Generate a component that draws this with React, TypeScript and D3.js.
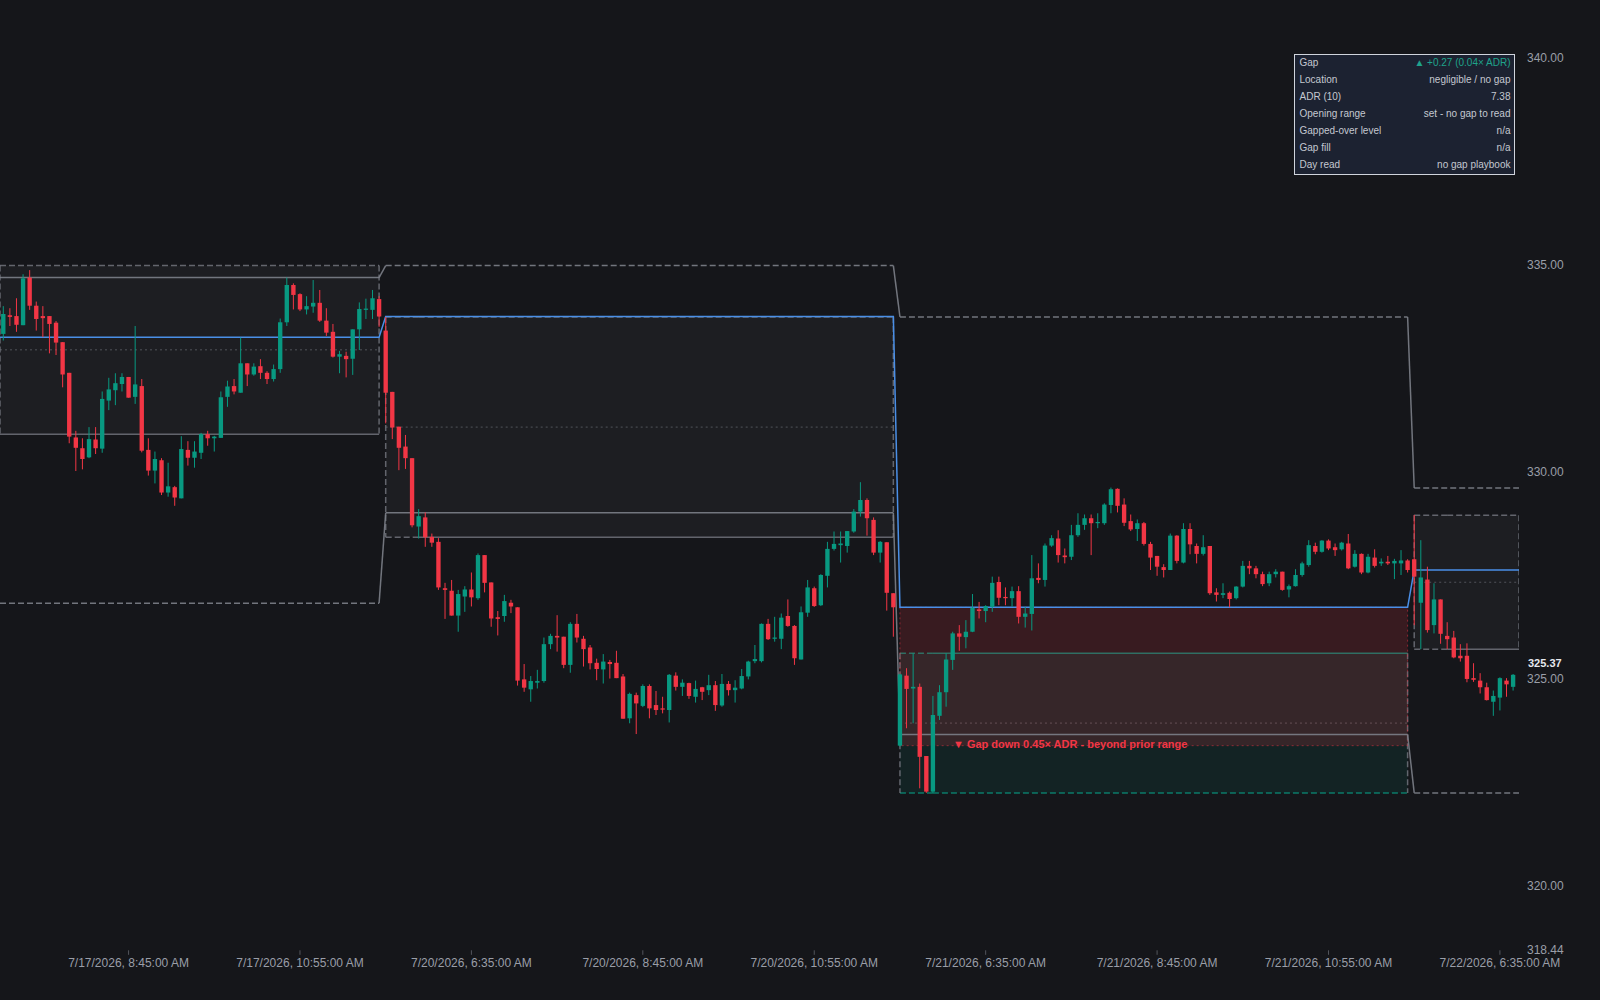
import React, { useEffect } from 'react';
import * as d3 from 'd3';

// ---------------- data ----------------
const sessionYmd: number[][] = [[2026, 7, 17], [2026, 7, 20], [2026, 7, 21], [2026, 7, 22]];
const sessionFirstBar = [20, 0, 0, 0]; // first visible 5-min bar of each session (session opens 5:30)
const orBars = 6; // opening range = first 30 minutes

// [open, high, low, close]
const bars0717: number[][] = [
  [333.32, 333.99, 333.16, 333.80], [333.77, 333.94, 333.51, 333.73], [333.75, 334.18, 333.37, 333.54],
  [333.53, 334.76, 333.53, 334.66], [334.68, 334.86, 333.90, 334.00], [334.00, 334.10, 333.40, 333.68],
  [333.75, 333.99, 333.24, 333.70], [333.75, 333.75, 332.85, 333.56], [333.59, 333.63, 332.81, 333.11],
  [333.12, 333.12, 332.03, 332.34], [332.38, 332.38, 330.68, 330.84], [330.82, 330.98, 330.01, 330.57],
  [330.56, 330.80, 330.05, 330.30], [330.34, 331.07, 330.32, 330.78], [330.77, 331.07, 330.42, 330.56],
  [330.55, 331.93, 330.45, 331.75], [331.71, 332.26, 331.48, 331.98], [331.96, 332.37, 331.60, 332.13],
  [332.11, 332.37, 331.93, 332.28], [332.28, 332.28, 331.78, 331.78], [331.80, 333.51, 331.63, 332.10],
  [332.06, 332.23, 330.46, 330.50], [330.52, 330.80, 329.90, 330.02], [330.02, 330.48, 329.71, 330.30],
  [330.27, 330.32, 329.43, 329.49], [329.49, 330.21, 329.39, 329.64], [329.62, 329.65, 329.17, 329.37],
  [329.35, 330.85, 329.35, 330.54], [330.52, 330.73, 330.14, 330.33], [330.33, 330.73, 330.09, 330.48],
  [330.45, 330.93, 330.30, 330.90], [330.90, 330.98, 330.62, 330.80], [330.80, 330.86, 330.48, 330.84],
  [330.81, 331.93, 330.81, 331.79], [331.80, 332.19, 331.56, 332.05], [332.06, 332.23, 331.86, 331.93],
  [331.90, 333.23, 331.90, 332.61], [332.61, 332.61, 332.06, 332.34], [332.34, 332.61, 332.31, 332.53],
  [332.54, 332.71, 332.23, 332.38], [332.38, 332.42, 332.11, 332.23], [332.23, 332.58, 332.17, 332.47],
  [332.47, 333.69, 332.38, 333.60], [333.60, 334.68, 333.51, 334.50], [334.50, 334.54, 333.91, 334.26],
  [334.28, 334.30, 333.87, 333.91], [333.91, 334.23, 333.79, 333.99], [333.98, 334.62, 333.83, 334.07],
  [334.07, 334.38, 333.61, 333.64], [333.64, 333.94, 333.27, 333.35], [333.37, 333.56, 332.75, 332.77],
  [332.77, 332.91, 332.37, 332.83], [332.79, 332.89, 332.27, 332.71], [332.72, 333.43, 332.33, 333.43],
  [333.43, 334.08, 332.93, 333.92], [333.90, 334.17, 333.68, 333.93], [333.90, 334.38, 333.68, 334.18],
  [334.16, 334.23, 333.49, 333.74],
];

const bars0720: number[][] = [
  [333.40, 333.73, 331.16, 331.90], [331.92, 331.92, 330.78, 331.06], [331.08, 331.08, 330.03, 330.57],
  [330.60, 330.88, 330.06, 330.32], [330.32, 330.32, 328.65, 328.70], [328.67, 329.09, 328.38, 328.92],
  [328.89, 329.01, 328.18, 328.41], [328.42, 328.50, 328.18, 328.28], [328.30, 328.39, 327.14, 327.20],
  [327.18, 327.31, 326.44, 327.14], [327.12, 327.38, 326.52, 326.52], [326.52, 327.14, 326.13, 327.04],
  [326.98, 327.23, 326.61, 327.15], [327.15, 327.56, 326.74, 326.96], [326.94, 328.02, 326.90, 327.98],
  [327.98, 327.98, 327.08, 327.31], [327.32, 327.32, 326.25, 326.45], [326.48, 326.63, 326.04, 326.44],
  [326.51, 327.02, 326.37, 326.87], [326.83, 326.90, 326.58, 326.74], [326.72, 326.72, 324.83, 324.95],
  [324.98, 325.35, 324.68, 324.78], [324.74, 325.06, 324.44, 324.94], [324.90, 325.21, 324.76, 324.94],
  [324.94, 325.99, 324.90, 325.83], [325.83, 326.08, 325.71, 326.03], [326.03, 326.53, 325.65, 325.99],
  [326.01, 326.01, 325.25, 325.33], [325.33, 326.36, 325.14, 326.32], [326.32, 326.56, 325.87, 325.99],
  [325.96, 326.03, 325.29, 325.71], [325.75, 325.81, 325.22, 325.37], [325.38, 325.48, 324.96, 325.23],
  [325.22, 325.59, 324.88, 325.41], [325.40, 325.45, 325.00, 325.35], [325.38, 325.67, 325.01, 325.01],
  [325.05, 325.11, 324.03, 324.03], [324.04, 324.66, 323.92, 324.63], [324.60, 324.66, 323.66, 324.40],
  [324.34, 324.86, 324.31, 324.82], [324.82, 324.86, 324.04, 324.28], [324.36, 324.70, 324.12, 324.24],
  [324.28, 324.56, 324.16, 324.25], [324.24, 325.11, 323.94, 325.09], [325.07, 325.15, 324.71, 324.80],
  [324.80, 324.98, 324.58, 324.90], [324.89, 324.90, 324.51, 324.58], [324.56, 324.95, 324.42, 324.75],
  [324.79, 324.80, 324.48, 324.68], [324.72, 325.09, 324.60, 324.84], [324.84, 324.94, 324.22, 324.36],
  [324.35, 325.11, 324.32, 324.87], [324.87, 324.94, 324.59, 324.72], [324.72, 324.96, 324.42, 324.78],
  [324.76, 325.23, 324.74, 325.06], [325.05, 325.43, 324.98, 325.41], [325.42, 325.81, 325.37, 325.47],
  [325.42, 326.33, 325.39, 326.32], [326.32, 326.44, 325.93, 325.95], [325.96, 326.49, 325.89, 325.99],
  [325.96, 326.57, 325.71, 326.47], [326.51, 326.91, 326.25, 326.27], [326.27, 326.29, 325.33, 325.49],
  [325.46, 326.74, 325.46, 326.60], [326.59, 327.38, 326.49, 327.20], [327.18, 327.22, 326.73, 326.75],
  [326.77, 327.52, 326.75, 327.50], [327.48, 328.30, 327.20, 328.13], [328.13, 328.55, 328.09, 328.25],
  [328.22, 328.55, 327.80, 328.26], [328.20, 328.56, 328.04, 328.56], [328.55, 329.09, 328.52, 329.03],
  [329.03, 329.74, 328.91, 329.31], [329.31, 329.35, 328.45, 328.87], [328.83, 328.89, 327.98, 328.04],
  [328.04, 328.32, 327.80, 328.30], [328.29, 328.29, 326.64, 327.07], [327.06, 327.06, 326.01, 326.72],
];

const bars0721: number[][] = [
  [323.38, 325.12, 323.36, 325.10], [325.07, 325.25, 323.80, 324.75], [324.76, 325.61, 323.92, 324.80],
  [324.80, 324.88, 322.35, 323.11], [323.13, 323.13, 322.24, 322.27], [322.27, 324.58, 322.24, 324.12],
  [324.10, 324.84, 324.00, 324.67], [324.67, 325.61, 324.32, 325.46], [325.45, 326.13, 325.21, 326.09],
  [326.09, 326.29, 325.67, 326.01], [326.00, 326.41, 325.73, 326.13], [326.13, 327.04, 326.12, 326.71],
  [326.67, 326.85, 326.45, 326.63], [326.63, 326.77, 326.36, 326.75], [326.73, 327.46, 326.61, 327.31],
  [327.33, 327.46, 326.77, 326.95], [326.97, 327.20, 326.77, 326.94], [326.94, 327.22, 326.73, 327.11],
  [327.11, 327.23, 326.33, 326.49], [326.49, 326.73, 326.23, 326.57], [326.56, 327.98, 326.16, 327.42],
  [327.43, 327.78, 327.30, 327.38], [327.38, 328.26, 327.22, 328.21], [328.21, 328.46, 328.18, 328.39],
  [328.38, 328.58, 327.80, 327.98], [327.97, 328.14, 327.78, 327.93], [327.94, 328.71, 327.86, 328.46],
  [328.46, 328.99, 328.42, 328.71], [328.71, 328.96, 328.59, 328.87], [328.87, 328.96, 327.98, 328.75],
  [328.75, 328.99, 328.63, 328.78], [328.75, 329.23, 328.71, 329.20], [329.19, 329.61, 328.99, 329.57],
  [329.58, 329.59, 329.01, 329.17], [329.20, 329.35, 328.68, 328.76], [328.80, 328.96, 328.56, 328.60],
  [328.61, 328.84, 328.32, 328.75], [328.75, 328.78, 328.21, 328.25], [328.25, 328.30, 327.62, 327.92],
  [327.96, 327.96, 327.48, 327.70], [327.69, 327.76, 327.44, 327.62], [327.62, 328.50, 327.62, 328.45],
  [328.45, 328.46, 327.78, 327.84], [327.80, 328.75, 327.78, 328.61], [328.61, 328.75, 328.00, 328.24],
  [328.20, 328.26, 327.78, 328.01], [328.01, 328.46, 327.97, 328.17], [328.20, 328.20, 327.02, 327.06],
  [327.08, 327.18, 326.86, 327.02], [327.02, 327.30, 326.94, 327.06], [327.07, 327.10, 326.72, 326.92],
  [326.94, 327.23, 326.91, 327.22], [327.22, 327.84, 327.20, 327.72], [327.72, 327.84, 327.52, 327.66],
  [327.66, 327.72, 327.42, 327.52], [327.52, 327.58, 327.23, 327.28], [327.30, 327.58, 327.23, 327.52],
  [327.52, 327.64, 327.44, 327.58], [327.58, 327.58, 327.12, 327.14], [327.15, 327.27, 326.96, 327.23],
  [327.23, 327.64, 327.22, 327.50], [327.50, 327.82, 327.46, 327.78], [327.74, 328.34, 327.70, 328.22],
  [328.20, 328.28, 328.00, 328.06], [328.06, 328.34, 328.04, 328.33], [328.33, 328.36, 328.10, 328.14],
  [328.17, 328.26, 327.96, 328.10], [328.12, 328.30, 328.09, 328.28], [328.26, 328.49, 327.64, 327.66],
  [327.70, 328.10, 327.68, 328.01], [328.01, 328.02, 327.52, 327.56], [327.56, 328.01, 327.54, 327.94],
  [327.92, 328.12, 327.68, 327.72], [327.78, 327.90, 327.72, 327.82], [327.82, 327.96, 327.74, 327.78],
  [327.78, 327.89, 327.40, 327.84], [327.78, 328.10, 327.50, 327.85], [327.85, 327.88, 327.56, 327.62],
];

const bars0722: number[][] = [
  [327.88, 328.95, 326.29, 327.46], [326.83, 328.34, 325.71, 327.44], [327.39, 327.70, 326.11, 326.17],
  [326.29, 327.30, 326.09, 326.91], [326.91, 326.91, 325.84, 326.08], [326.03, 326.36, 325.71, 325.95],
  [325.99, 326.15, 325.49, 325.51], [325.55, 325.83, 325.41, 325.49], [325.55, 325.85, 324.91, 324.99],
  [325.01, 325.37, 324.92, 324.97], [324.95, 325.13, 324.64, 324.79], [324.79, 324.90, 324.47, 324.48],
  [324.44, 324.71, 324.10, 324.58], [324.54, 325.03, 324.23, 325.01], [324.95, 325.01, 324.56, 324.86],
  [324.80, 325.11, 324.71, 325.09],
];

// per-session levels
const orHigh = [334.97, 333.73, 325.61, 328.94];
const orLow = [330.90, 328.41, 322.24, 325.71];
const priorHigh = [334.68, 334.97, 333.73, 329.60];
const priorLow = [326.82, 329.00, 323.65, 322.24];
const priorClose = [333.24, 333.74, 326.72, 327.62];
const orTone = ['flat', 'flat', 'up', 'flat'];

const gapSessionIndex = 2;
const gapLabel = '\u25BC Gap down 0.45\u00D7 ADR - beyond prior range';

const yTicks = [320, 325, 330, 335, 340];
const yDomain = [318.44, 341.38];
const lastPrice = 325.37;

const tableLabels = ['Gap', 'Location', 'ADR (10)', 'Opening range', 'Gapped-over level', 'Gap fill', 'Day read'];
const tableValues = ['\u25B2 +0.27 (0.04\u00D7 ADR)', 'negligible / no gap', '7.38', 'set - no gap to read', 'n/a', 'n/a', 'no gap playbook'];

// ---------------- styling ----------------
const BG = '#15161a';
const UP = '#089981';
const DOWN = '#f23645';
const BLUE = '#4a8fe7';
const GREY = '#7c7f88';
const TEXT = '#9a9ea8';
const FONT = '"Liberation Sans", Arial, sans-serif';
const DASH = '6 3';

const W = 1600;
const H = 1000;
const PLOT_R = 1519;
const PLOT_B = 950.3;

type Bar = { o: number; h: number; l: number; c: number; s: number; k: number; g: number };

function fmtTime(ymd: number[], k: number) {
  const mins = 5 * 60 + 30 + 5 * k;
  let hh = Math.floor(mins / 60);
  const mm = mins % 60;
  const ampm = hh >= 12 ? 'PM' : 'AM';
  hh = hh % 12 === 0 ? 12 : hh % 12;
  return `${ymd[1]}/${ymd[2]}/${ymd[0]}, ${hh}:${String(mm).padStart(2, '0')}:00 ${ampm}`;
}

export default function App() {
  useEffect(() => {
    document.body.style.margin = '0';
    document.body.style.background = BG;
  }, []);

  const sessions = [bars0717, bars0720, bars0721, bars0722];
  const bars: Bar[] = [];
  sessions.forEach((arr, s) => {
    arr.forEach((b, i) => {
      bars.push({ o: b[0], h: b[1], l: b[2], c: b[3], s, k: sessionFirstBar[s] + i, g: bars.length });
    });
  });
  const nS = sessions.length;

  const x = d3.scaleBand<number>().domain(bars.map((b) => b.g)).range([0, 1516.4]).padding(0);
  const bw = x.bandwidth();
  const cx = (g: number) => (x(g) as number) + bw / 2;
  const y = d3.scaleLinear().domain(yDomain).range([PLOT_B, 0]);

  const sessBars = sessions.map((_, s) => bars.filter((b) => b.s === s));
  const sessFirst = sessBars.map((a) => a[0].g);
  const sessLast = sessBars.map((a) => a[a.length - 1].g);
  const sx0 = (s: number) => (s === 0 ? 0 : cx(sessFirst[s]));
  const sx1 = (s: number) => (s === nS - 1 ? PLOT_R : cx(sessLast[s]));

  const line = d3.line<[number, number]>().x((d) => d[0]).y((d) => d[1]);

  // per-session horizontal segment (solid once the level has traded through) + solid connectors
  const levelSegments = (lv: number[], isHigh: boolean) =>
    sessions.map((_, s) => {
      const pts: [number, number][] = [];
      if (s === 0) pts.push([0, y(lv[0])]);
      sessBars[s].forEach((b) => pts.push([cx(b.g), y(lv[s])]));
      if (s === nS - 1) pts.push([PLOT_R, y(lv[s])]);
      const hit = isHigh
        ? d3.max(sessBars[s], (b) => b.h)! >= lv[s]
        : d3.min(sessBars[s], (b) => b.l)! <= lv[s];
      const conn = s > 0
        ? (line([[cx(sessLast[s - 1]), y(lv[s - 1])], [cx(sessFirst[s]), y(lv[s])]]) as string)
        : null;
      return { d: line(pts) as string, dashed: !hit, conn };
    });

  const ticks = bars.filter((b) => (b.k - 13) % 26 === 0);

  const gs = gapSessionIndex;
  const gapOpen = sessions[gs][0][0];
  const gapTop = y(priorClose[gs]);
  const gapBot = y(gapOpen);

  const rowH = 17.0;

  const renderLevel = (lv: number[], isHigh: boolean, key: string) =>
    levelSegments(lv, isHigh).map((seg, i) => (
      <g key={key + i}>
        {seg.conn && <path d={seg.conn} fill="none" stroke={GREY} strokeWidth={1.5} strokeOpacity={0.9} />}
        <path d={seg.d} fill="none" stroke={GREY} strokeWidth={1.5} strokeOpacity={0.9}
          strokeDasharray={seg.dashed ? DASH : undefined} />
      </g>
    ));

  return (
    <div style={{ position: 'absolute', left: 0, top: 0, width: W, height: H, background: BG }}>
      <svg width={W} height={H} style={{ display: 'block' }} fontFamily={FONT}>
        <rect x={0} y={0} width={W} height={H} fill={BG} />
        <defs>
          <clipPath id="plot">
            <rect x={0} y={0} width={PLOT_R} height={PLOT_B} />
          </clipPath>
        </defs>
        <g clipPath="url(#plot)">
          {/* opening range boxes */}
          {sessions.map((_, s) => {
            const up = orTone[s] === 'up';
            const x0 = sx0(s);
            const x1 = sx1(s);
            const yt = y(orHigh[s]);
            const yb = y(orLow[s]);
            const ym = y((orHigh[s] + orLow[s]) / 2);
            const formed = sessBars[s].filter((b) => b.k >= orBars - 1);
            const xSet = sessionFirstBar[s] >= orBars - 1 ? x0 : cx(formed[0].g);
            const after = sessBars[s].filter((b) => b.k >= orBars);
            const topBroken = d3.max(after, (b) => b.h)! > orHigh[s];
            const botBroken = d3.min(after, (b) => b.l)! < orLow[s];
            const edge = up ? UP : GREY;
            return (
              <g key={'or' + s}>
                <rect x={x0} y={yt} width={x1 - x0} height={yb - yt}
                  fill={up ? 'rgba(8,153,129,0.10)' : 'rgba(255,255,255,0.035)'} />
                {xSet > x0 && (
                  <>
                    <line x1={x0} x2={xSet} y1={yt} y2={yt} stroke={edge} strokeOpacity={0.75} strokeWidth={1.5} strokeDasharray={DASH} />
                    <line x1={x0} x2={xSet} y1={yb} y2={yb} stroke={edge} strokeOpacity={0.75} strokeWidth={1.5} strokeDasharray={DASH} />
                  </>
                )}
                <line x1={xSet} x2={x1} y1={yt} y2={yt} stroke={edge} strokeOpacity={0.75} strokeWidth={1.5}
                  strokeDasharray={topBroken ? undefined : DASH} />
                <line x1={xSet} x2={x1} y1={yb} y2={yb} stroke={edge} strokeOpacity={0.75} strokeWidth={1.5}
                  strokeDasharray={botBroken ? undefined : DASH} />
                <line x1={x0} x2={x0} y1={yt} y2={yb} stroke={GREY} strokeOpacity={0.75} strokeWidth={1.5} strokeDasharray={DASH} />
                <line x1={x1} x2={x1} y1={yt} y2={yb} stroke={GREY} strokeOpacity={0.75} strokeWidth={1.5} strokeDasharray={DASH} />
                <line x1={x0} x2={x1} y1={ym} y2={ym} stroke={GREY} strokeOpacity={0.55} strokeWidth={1} strokeDasharray="2 3" />
              </g>
            );
          })}

          {/* gap zone */}
          <rect x={cx(sessFirst[gs])} y={gapTop} width={cx(sessLast[gs]) - cx(sessFirst[gs])} height={gapBot - gapTop}
            fill="rgba(242,54,69,0.16)" stroke={DOWN} strokeOpacity={0.5} strokeWidth={1} strokeDasharray="2 3" />

          {/* prior-day levels */}
          {renderLevel(priorHigh, true, 'ph')}
          {renderLevel(priorLow, false, 'pl')}
          <path d={line([[0, y(priorClose[0])], ...bars.map((b) => [cx(b.g), y(priorClose[b.s])] as [number, number]), [PLOT_R, y(priorClose[nS - 1])]]) as string}
            fill="none" stroke={BLUE} strokeWidth={1.5} />

          {/* candles */}
          {bars.map((b) => {
            const c = cx(b.g);
            const col = b.c >= b.o ? UP : DOWN;
            const top = y(Math.max(b.o, b.c));
            const bot = y(Math.min(b.o, b.c));
            const bodyW = bw * 0.66;
            return (
              <g key={'b' + b.g}>
                <line x1={c} x2={c} y1={y(b.h)} y2={y(b.l)} stroke={col} strokeWidth={1} />
                <rect x={c - bodyW / 2} y={top} width={bodyW} height={Math.max(1, bot - top)} fill={col} />
              </g>
            );
          })}

          {/* gap label */}
          <text x={cx(sessFirst[gs]) + 53} y={gapBot - 0.5} dominantBaseline="middle" fill={DOWN}
            fontSize={11} fontWeight="bold">{gapLabel}</text>
        </g>

        {/* x axis */}
        {ticks.map((b) => (
          <g key={'t' + b.g}>
            <line x1={cx(b.g)} x2={cx(b.g)} y1={PLOT_B} y2={PLOT_B + 4.5} stroke={GREY} strokeOpacity={0.6} />
            <text x={cx(b.g)} y={964} textAnchor="middle" dominantBaseline="middle" fill={TEXT} fontSize={12}>
              {fmtTime(sessionYmd[b.s], b.k)}
            </text>
          </g>
        ))}

        {/* y axis */}
        {yTicks.map((t) => (
          <text key={'y' + t} x={1527} y={y(t) + 1.5} dominantBaseline="middle" fill={TEXT} fontSize={12}>
            {t.toFixed(2)}
          </text>
        ))}
        <text x={1527} y={y(yDomain[0]) + 0.5} dominantBaseline="middle" fill={TEXT} fontSize={12}>
          {yDomain[0].toFixed(2)}
        </text>
        <text x={1528} y={y(lastPrice) + 0.5} dominantBaseline="middle" fill="#e6e8ee" fontSize={11} fontWeight="bold">
          {lastPrice.toFixed(2)}
        </text>

        {/* info table */}
        <g>
          <rect x={1294.5} y={54.5} width={220} height={120} fill="#1c2231" stroke="#d0d4dc" strokeWidth={1} />
          {tableLabels.map((lab, i) => (
            <g key={'r' + i}>
              <text x={1299.5} y={63.6 + i * rowH} dominantBaseline="middle" fill="#c4c8d0" fontSize={10}>{lab}</text>
              <text x={1510.5} y={63.6 + i * rowH} dominantBaseline="middle" textAnchor="end"
                fill={i === 0 ? '#1fa38c' : '#c4c8d0'} fontSize={10}>{tableValues[i]}</text>
            </g>
          ))}
        </g>
      </svg>
    </div>
  );
}
